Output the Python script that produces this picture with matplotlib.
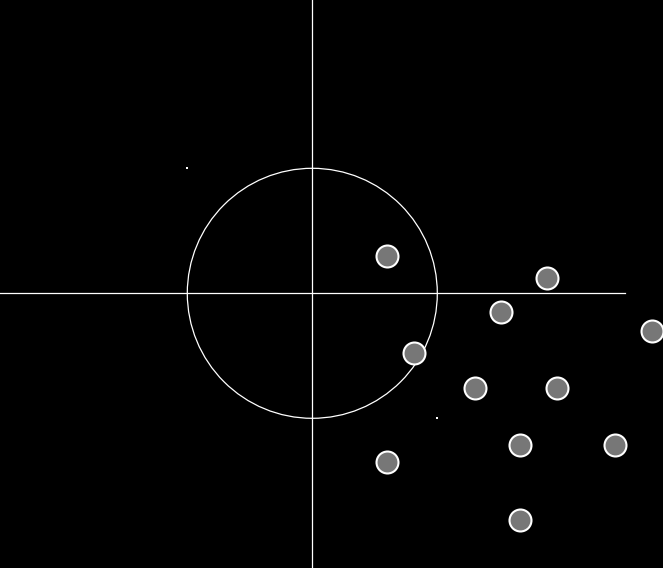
import matplotlib
matplotlib.use("Agg")
import matplotlib.pyplot as plt
from matplotlib.patches import Circle

# data (units: circle radius = 1)
pts_x = [0.60, 1.88, 1.51, 2.72, 0.81, 1.30, 1.96, 1.66, 2.42, 0.60, 1.66]
pts_y = [0.30, 0.12, -0.15, -0.30, -0.48, -0.76, -0.76, -1.21, -1.21, -1.35, -1.81]
corner_x = [-1, 1]
corner_y = [1, -1]
axis_extent = 2.5

fig = plt.figure(figsize=(6.63, 5.68), dpi=100, facecolor="black")
ax = fig.add_axes([0, 0, 1, 1])
ax.set_facecolor("black")
ax.set_xlim(-312.3 / 125, (663 - 312.3) / 125)
ax.set_ylim(-(568 - 293.3) / 125, 293.3 / 125)
ax.set_aspect("equal")
ax.axis("off")

ax.plot([-axis_extent, axis_extent], [0, 0], color="white", lw=0.9)
ax.plot([0, 0], [-axis_extent, axis_extent], color="white", lw=0.9)
ax.add_patch(Circle((0, 0), 1.0, fill=False, edgecolor="white", lw=0.9))
ax.scatter(corner_x, corner_y, s=0.8, color="white", marker="s", linewidths=0)
ax.scatter(pts_x, pts_y, s=250, facecolor="#777777", edgecolor="white", linewidths=1.5, zorder=3)

fig.savefig("out.png", dpi=100, facecolor="black")
